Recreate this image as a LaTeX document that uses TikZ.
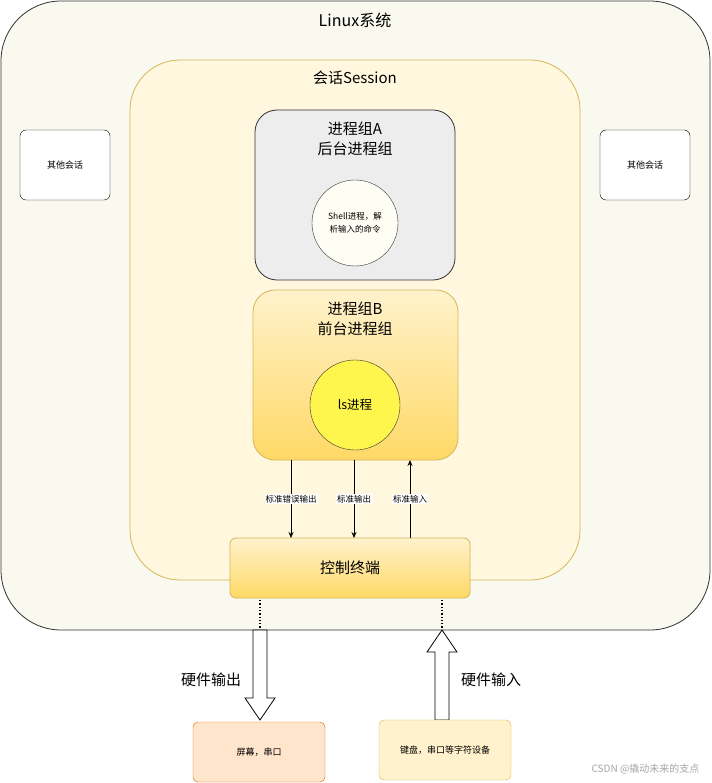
\documentclass[tikz,border=0pt]{standalone}
\usepackage{fontspec}
\setmainfont{Noto Sans CJK SC}
\usetikzlibrary{arrows.meta}
\definecolor{gold}{HTML}{D6B656}
\definecolor{lt}{HTML}{FFF2CC}
\definecolor{dk}{HTML}{FFD966}
\definecolor{bgl}{HTML}{F9F9F0}
\tikzset{
  every node/.style={font=\fontsize{10}{12}\selectfont, align=center},
  box/.style={draw=#1, line width=0.8pt},
  grad/.style={draw=gold, line width=0.8pt, top color=lt, bottom color=dk},
  lbl/.style={font=\fontsize{8.5}{10}\selectfont, fill=white, inner sep=1pt},
  arr/.style={-{Stealth[length=6pt,width=5pt]}, line width=0.7pt},
  hollow/.style={draw=black, fill=white, line width=0.8pt},
  big/.style={font=\fontsize{15}{20}\selectfont},
  small/.style={font=\fontsize{9}{11}\selectfont},
}
\begin{document}
\begin{tikzpicture}[x=1pt,y=-1pt]
\useasboundingbox (0,0) rectangle (711,783);
\fill[white] (0,0) rectangle (711,783);
% Linux
\draw[box=black!80, fill=bgl, rounded corners=60pt] (1,1) rectangle (710,630);
\node[big, font=\fontsize{16}{18}\selectfont] (lt) at (355,20) {Linux系统};
% session
\draw[box=gold, fill=lt!65!white, rounded corners=50pt] (130,60) rectangle (580,580);
\node[big] (st) at (355,78) {会话Session};
% others
\node[draw=black, fill=white, rounded corners=6pt, minimum width=90pt, minimum height=70pt, small] (o1) at (65,165) {其他会话};
\node[draw=black, fill=white, rounded corners=6pt, minimum width=90pt, minimum height=70pt, small] (o2) at (645,165) {其他会话};
% group A
\draw[box=black!80, fill=black!7, rounded corners=22pt] (255,110) rectangle (455,280);
\node[big] (ga) at (355,139) {进程组A\\后台进程组};
\node[circle, draw=black!80, fill=yellow!4!white, minimum size=86pt, font=\fontsize{8.5}{13}\selectfont, inner sep=0pt] (sh) at (355,223) {Shell进程，解\\析输入的命令};
% group B
\draw[grad, rounded corners=22pt] (253,290) rectangle (458,460);
\node[big] (gb) at (355,319) {进程组B\\前台进程组};
\node[circle, draw=black!80, fill=yellow!70!white, minimum size=90pt, font=\fontsize{12.5}{15}\selectfont] (ls) at (355,405) {ls进程};
% terminal
\node[grad, rounded corners=6pt, minimum width=240pt, minimum height=60pt, big] (ct) at (350,568) {控制终端};
\coordinate (a1) at (291,460); \coordinate (b1) at (291,538);
\coordinate (a2) at (354,460); \coordinate (b2) at (354,538);
\coordinate (a3) at (410,538); \coordinate (b3) at (410,460);
\draw[arr] (a1) -- node[lbl, pos=0.5] {标准错误输出} (b1);
\draw[arr] (a2) -- node[lbl, pos=0.5] {标准输出} (b2);
\draw[arr] (a3) -- node[lbl, pos=0.5] {标准输入} (b3);
% dotted
\draw[dotted, line width=1.3pt] (260,600) -- (260,630);
\draw[dotted, line width=1.3pt] (442,600) -- (442,630);
\draw[hollow] (253,630) -- (267,630) -- (267,698) -- (275,698) -- (260,720) -- (245,698) -- (253,698) -- cycle;
\draw[hollow] (435,720) -- (449,720) -- (449,652) -- (457,652) -- (442,630) -- (427,652) -- (435,652) -- cycle;
\node[big] (tho) at (211,680) {硬件输出};
\node[big] (thi) at (491,680) {硬件输入};
% devices
\node[draw=orange!85!black, fill=orange!20!white, rounded corners=5pt, minimum width=132pt, minimum height=60pt, small] (scr) at (259,752) {屏幕，串口};
\node[draw=gold, fill=lt, rounded corners=5pt, minimum width=132pt, minimum height=60pt, small] (kb) at (445,750) {键盘，串口等字符设备};
\node[text=black!35, anchor=east, font=\fontsize{10}{11}\selectfont] (wm) at (703,769) {CSDN @撬动未来的支点};
\end{tikzpicture}
\end{document}
